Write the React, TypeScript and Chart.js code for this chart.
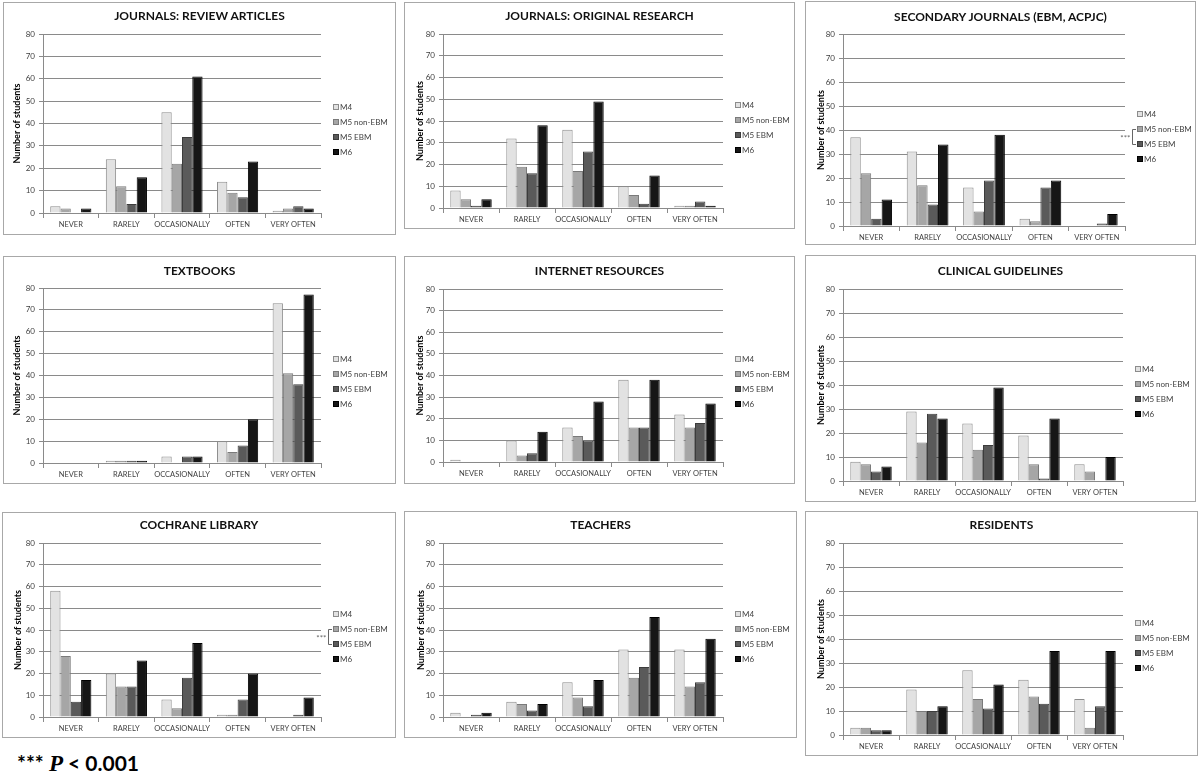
import React, { useEffect, useRef } from "react";
import { Chart, registerables } from "chart.js";
Chart.register(...registerables);

const categories = ["NEVER", "RARELY", "OCCASIONALLY", "OFTEN", "VERY OFTEN"];
const seriesNames = ["M4", "M5 non-EBM", "M5 EBM", "M6"];
const yMin = 0;
const yMax = 80;
const yStep = 10;

// series order: M4, M5 non-EBM, M5 EBM, M6 ; values per category
const reviewArticles = [[3, 24, 45, 14, 1], [2, 12, 22, 9, 2], [0, 4, 34, 7, 3], [2, 16, 61, 23, 2]];
const originalResearch = [[8, 32, 36, 10, 1], [4, 19, 17, 6, 1], [1, 16, 26, 2, 3], [4, 38, 49, 15, 1]];
const secondaryJournals = [[37, 31, 16, 3, 0], [22, 17, 6, 2, 0], [3, 9, 19, 16, 1], [11, 34, 38, 19, 5]];
const textbooks = [[0, 1, 3, 10, 73], [0, 1, 0, 5, 41], [0, 1, 3, 8, 36], [0, 1, 3, 20, 77]];
const internetResources = [[1, 10, 16, 38, 22], [0, 3, 12, 16, 16], [0, 4, 10, 16, 18], [0, 14, 28, 38, 27]];
const clinicalGuidelines = [[8, 29, 24, 19, 7], [7, 16, 13, 7, 4], [4, 28, 15, 1, 0], [6, 26, 39, 26, 10]];
const cochraneLibrary = [[58, 20, 8, 1, 0], [28, 14, 4, 1, 0], [7, 14, 18, 8, 1], [17, 26, 34, 20, 9]];
const teachers = [[2, 7, 16, 31, 31], [0, 6, 9, 18, 14], [1, 3, 5, 23, 16], [2, 6, 17, 46, 36]];
const residents = [[3, 19, 27, 23, 15], [3, 10, 15, 16, 3], [2, 10, 11, 13, 12], [2, 12, 21, 35, 35]];

const panelTitles = [
  "JOURNALS: REVIEW ARTICLES",
  "JOURNALS: ORIGINAL RESEARCH",
  "SECONDARY JOURNALS (EBM, ACPJC)",
  "TEXTBOOKS",
  "INTERNET RESOURCES",
  "CLINICAL GUIDELINES",
  "COCHRANE LIBRARY",
  "TEACHERS",
  "RESIDENTS",
];
const panelData = [
  reviewArticles, originalResearch, secondaryJournals,
  textbooks, internetResources, clinicalGuidelines,
  cochraneLibrary, teachers, residents,
];
const significantPanels = [false, false, true, false, false, false, true, false, false];
const footnote = "*** P < 0.001";

// ---- layout (page coordinates) ----
const boxes = [
  { x: 3, y: 2, w: 393, h: 233 },
  { x: 404, y: 2, w: 391, h: 227 },
  { x: 805, y: 1, w: 391, h: 244 },
  { x: 3, y: 256, w: 393, h: 228 },
  { x: 404, y: 256, w: 391, h: 228 },
  { x: 805, y: 255, w: 391, h: 247 },
  { x: 2, y: 512, w: 394, h: 226 },
  { x: 404, y: 511, w: 393, h: 227 },
  { x: 805, y: 511, w: 393, h: 245 },
];
const plots = [
  { l: 43, r: 321, t: 34, b: 213, title: 16, ytx: 17 },
  { l: 443, r: 723, t: 34, b: 208, title: 16, ytx: 420 },
  { l: 843, r: 1125, t: 34, b: 226, title: 17, ytx: 821 },
  { l: 43, r: 321, t: 288, b: 463, title: 271, ytx: 17 },
  { l: 443, r: 723, t: 289, b: 462, title: 271, ytx: 420 },
  { l: 843, r: 1123, t: 289, b: 481, title: 271, ytx: 821 },
  { l: 43, r: 321, t: 543, b: 717, title: 525, ytx: 18 },
  { l: 443, r: 723, t: 543, b: 717, title: 525, ytx: 421 },
  { l: 843, r: 1123, t: 543, b: 735, title: 525, ytx: 821 },
];

const fills = ["#e2e2e2", "#a6a6a6", "#5a5a5a", "#161616"];
const borders = ["#8c8c8c", "#7a7a7a", "#3c3c3c", "#000000"];
const FONT = "Lato, 'Open Sans', sans-serif";
const gridColor = "#8a8a8a";

const sideLegend = {
  id: "sideLegend",
  afterDraw(chart: any, _args: any, opts: any) {
    const { ctx, chartArea } = chart;
    const ds = chart.data.datasets;
    const cy = (chartArea.top + chartArea.bottom) / 2 + 6;
    const sp = 15;
    const x0 = chartArea.right + 12;
    ctx.save();
    ctx.font = `8px ${FONT}`;
    ctx.textBaseline = "middle";
    ctx.textAlign = "left";
    const ys: number[] = [];
    ds.forEach((d: any, i: number) => {
      const y = Math.round(cy + (i - 1.5) * sp);
      ys.push(y);
      ctx.fillStyle = d.backgroundColor;
      ctx.fillRect(x0, y - 3, 6, 6);
      ctx.strokeStyle = d.borderColor;
      ctx.lineWidth = 1;
      ctx.strokeRect(x0 + 0.5, y - 2.5, 5, 5);
      ctx.fillStyle = "#404040";
      ctx.fillText(d.label, x0 + 7, y + 0.5);
    });
    if (opts && opts.sig) {
      const bx = x0 - 4.5;
      ctx.strokeStyle = "#666";
      ctx.lineWidth = 1;
      ctx.beginPath();
      ctx.moveTo(x0 - 1, ys[1] + 0.5);
      ctx.lineTo(bx, ys[1] + 0.5);
      ctx.lineTo(bx, ys[2] + 0.5);
      ctx.lineTo(x0 - 1, ys[2] + 0.5);
      ctx.stroke();
      ctx.fillStyle = "#666";
      ctx.font = `8px ${FONT}`;
      ctx.textAlign = "right";
      ctx.fillText("***", bx - 2, (ys[1] + ys[2]) / 2 + 2);
    }
    ctx.restore();
  },
};

function Panel({ idx }: { idx: number }) {
  const ref = useRef<HTMLCanvasElement>(null);
  const box = boxes[idx];
  const p = plots[idx];
  const cw = box.w - 2;
  const ch = box.h - 2;
  useEffect(() => {
    if (!ref.current) return;
    const ox = box.x + 1;
    const oy = box.y + 1;
    const titleSize = 9;
    const pl = p.ytx - ox - (titleSize * 1.2) / 2;
    const yw = p.l - ox - pl;
    const pt = p.t - oy;
    const pr = ox + cw - p.r;
    const xh = oy + ch - p.b;
    const chart = new Chart(ref.current, {
      type: "bar",
      data: {
        labels: categories,
        datasets: panelData[idx].map((vals, i) => ({
          label: seriesNames[i],
          data: vals,
          backgroundColor: fills[i],
          borderColor: borders[i],
          borderWidth: 1,
          categoryPercentage: 0.74,
          barPercentage: 1.0,
        })),
      },
      options: {
        responsive: false,
        animation: false,
        layout: { padding: { left: pl, top: pt, right: pr, bottom: 0 } },
        plugins: {
          legend: { display: false },
          tooltip: { enabled: false },
          title: { display: false },
          sideLegend: { sig: significantPanels[idx] },
        } as any,
        scales: {
          x: {
            type: "category",
            offset: true,
            grid: {
              display: true,
              offset: true,
              drawOnChartArea: false,
              drawTicks: true,
              tickLength: 5,
              color: gridColor,
            },
            border: { color: gridColor },
            ticks: {
              font: { family: FONT, size: 7.5 },
              color: "#404040",
              padding: 2,
              maxRotation: 0,
              autoSkip: false,
            },
            afterFit: (s: any) => {
              s.height = xh;
            },
          },
          y: {
            min: yMin,
            max: yMax,
            ticks: {
              stepSize: yStep,
              font: { family: FONT, size: 8 },
              color: "#404040",
              padding: 4,
            },
            grid: { color: gridColor, tickLength: 4 },
            border: { color: gridColor },
            title: {
              display: true,
              text: "Number of students",
              font: { family: FONT, size: titleSize, weight: "bold" },
              color: "#000",
              padding: 0,
            },
            afterFit: (s: any) => {
              s.width = yw;
            },
          },
        },
      },
      plugins: [sideLegend as any],
    });
    return () => chart.destroy();
  }, [idx]);
  return (
    <div
      style={{
        position: "absolute",
        left: box.x,
        top: box.y,
        width: box.w - 2,
        height: box.h - 2,
        border: "1px solid #a8a8a8",
        background: "#fff",
      }}
    >
      <canvas ref={ref} width={cw} height={ch} style={{ display: "block", width: cw, height: ch }} />
      <div
        style={{
          position: "absolute",
          left: 0,
          width: cw,
          top: p.title - box.y - 1 - 8,
          height: 16,
          lineHeight: "16px",
          textAlign: "center",
          fontFamily: FONT,
          fontWeight: 700,
          fontSize: 12,
          color: "#111",
        }}
      >
        {panelTitles[idx]}
      </div>
    </div>
  );
}

export default function App() {
  const parts = footnote.split("P");
  return (
    <div style={{ position: "absolute", left: 0, top: 0, width: 1200, height: 783, background: "#fff" }}>
      {panelTitles.map((_, i) => (
        <Panel key={i} idx={i} />
      ))}
      <div
        style={{
          position: "absolute",
          left: 17,
          top: 750,
          height: 26,
          lineHeight: "26px",
          fontFamily: FONT,
          fontWeight: 700,
          fontSize: 21,
          color: "#000",
          whiteSpace: "pre",
        }}
      >
        {parts[0]}
        <span style={{ fontFamily: "'Liberation Serif', serif", fontStyle: "italic", fontSize: 23 }}>P</span>
        {parts[1]}
      </div>
    </div>
  );
}
